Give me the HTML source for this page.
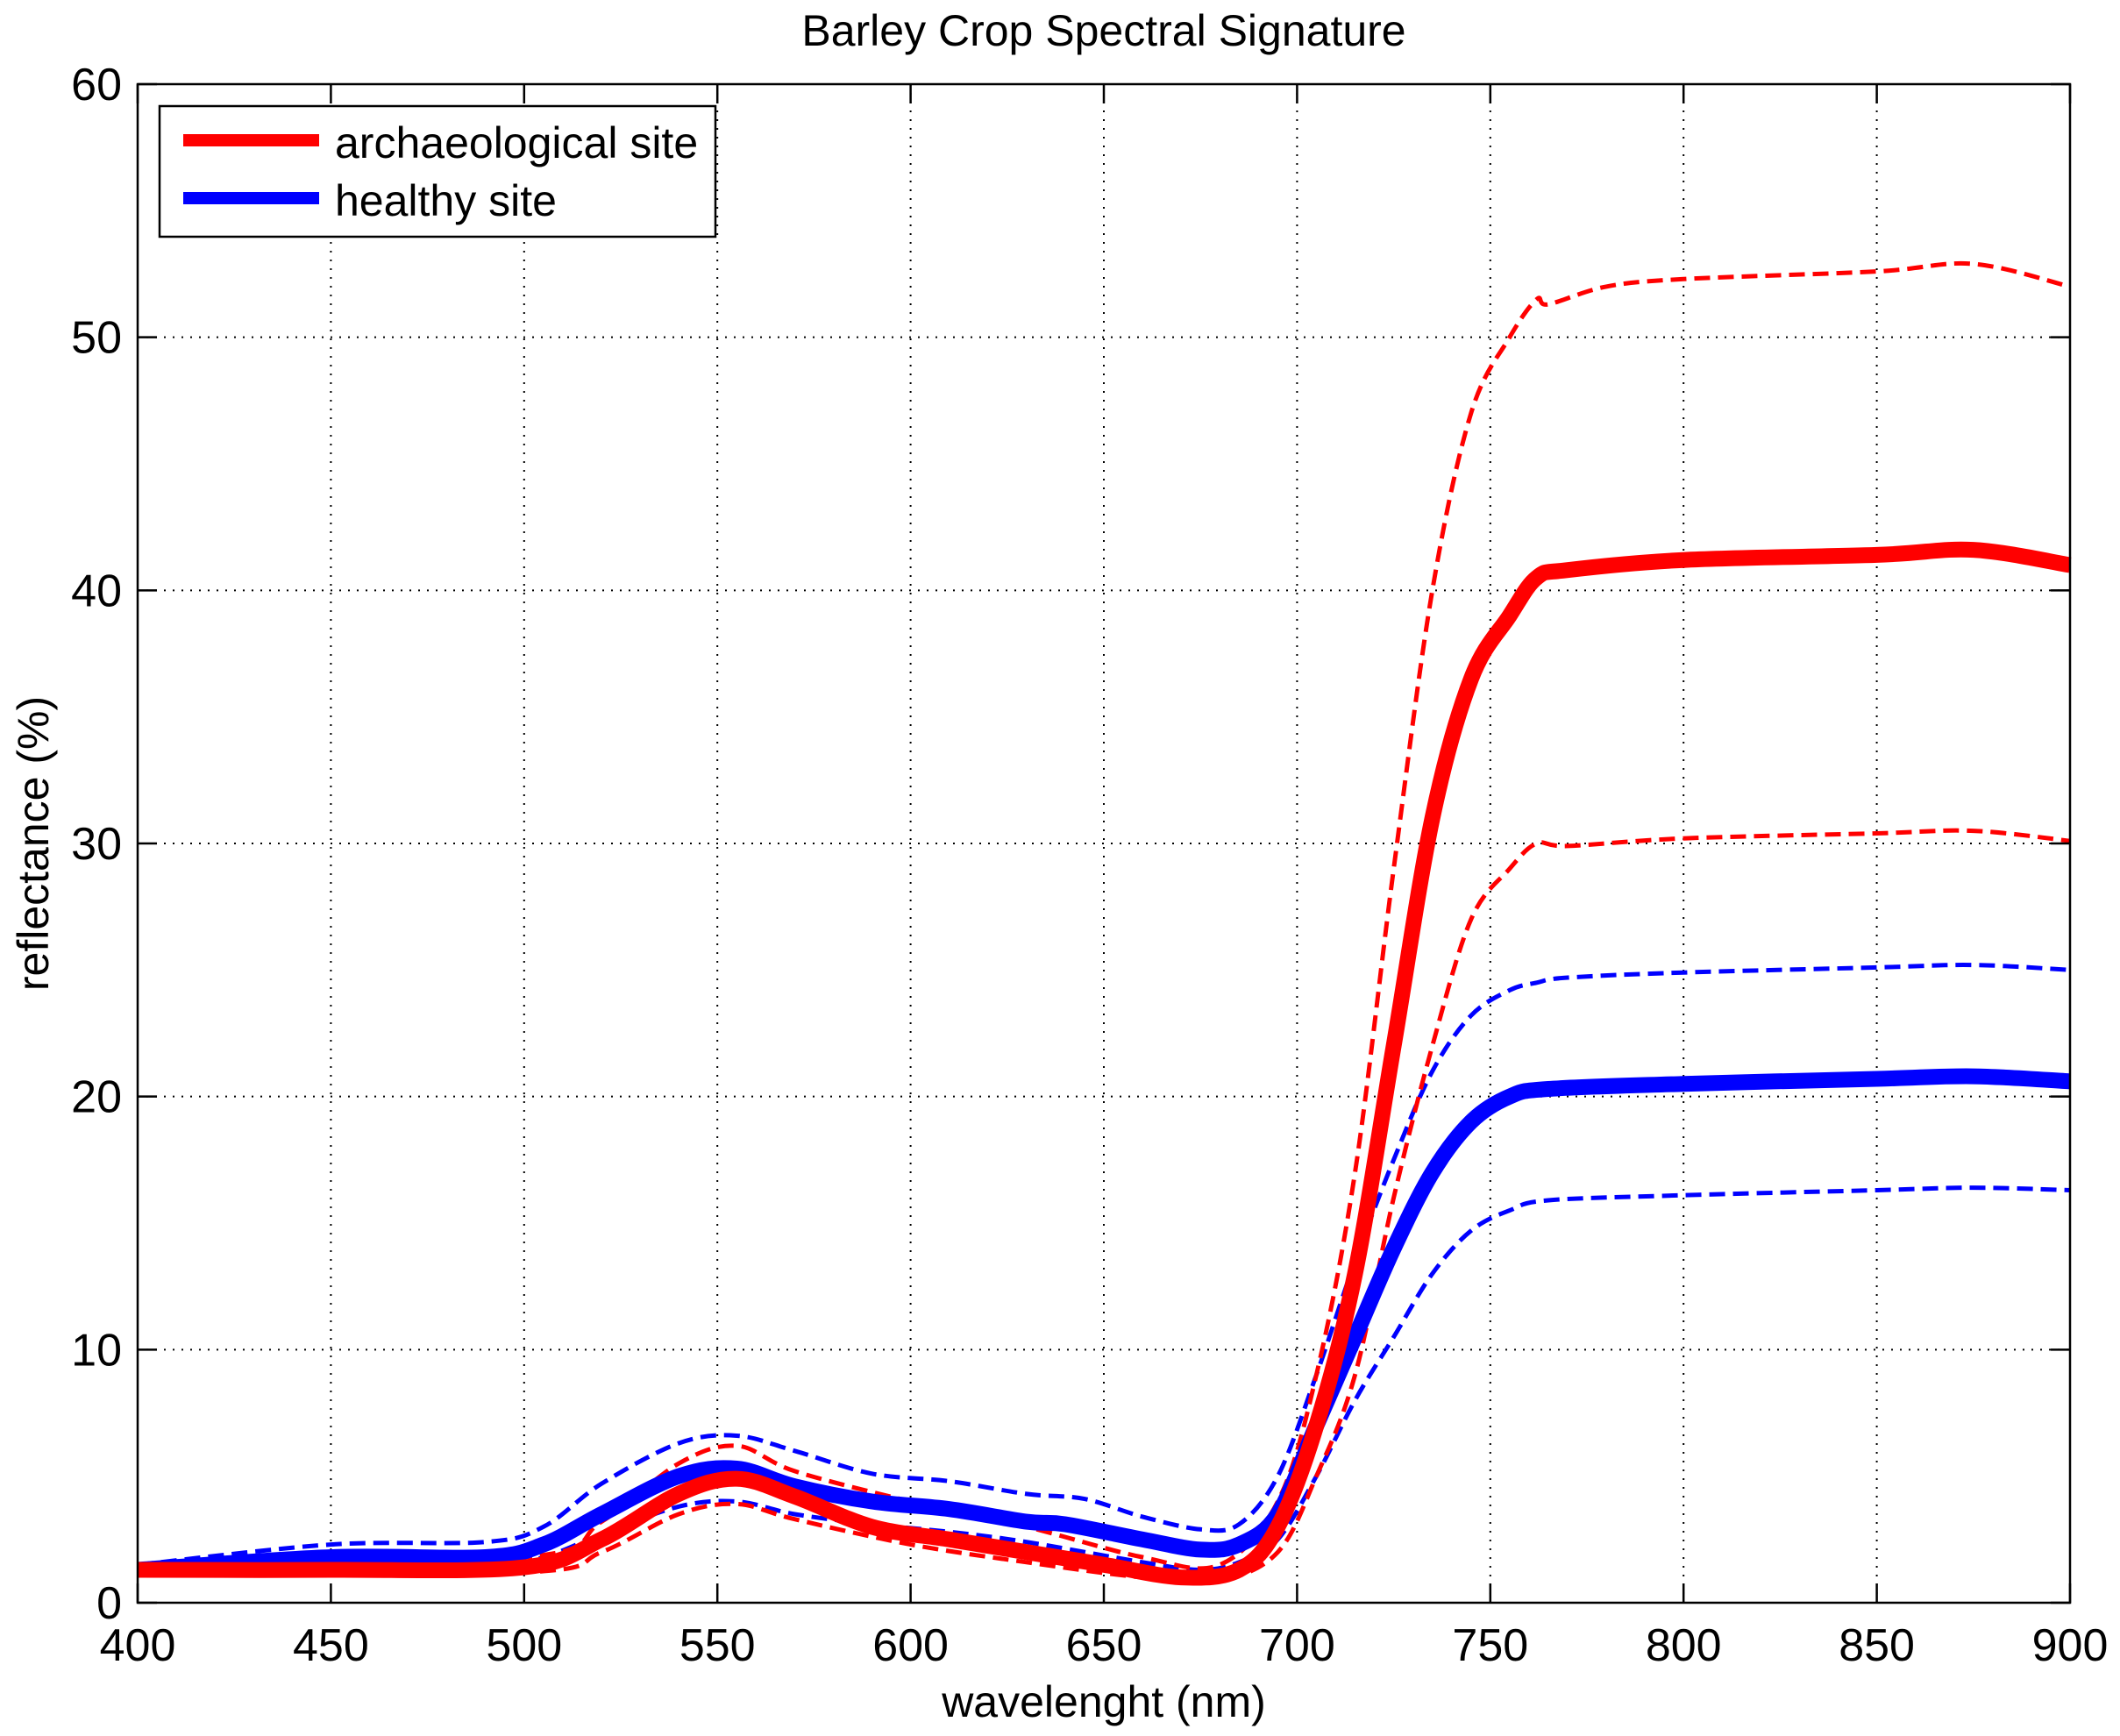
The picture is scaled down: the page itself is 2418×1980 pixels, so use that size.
<!DOCTYPE html>
<html><head><meta charset="utf-8">
<style>
html,body{margin:0;padding:0;background:#fff;}
svg{display:block;font-family:"Liberation Sans",Arial,sans-serif;}
</style></head>
<body>
<svg id="s" width="2418" height="1980" viewBox="0 0 2418 1980" xmlns="http://www.w3.org/2000/svg">
<rect width="2418" height="1980" fill="#fff"/>
<g id="grid"></g>
<g id="series"></g>
<rect x="157" y="96" width="2204" height="1732" fill="none" stroke="#000" stroke-width="2.5"/>
<g id="ticks"></g>
<text x="1259" y="52" font-size="50" text-anchor="middle">Barley Crop Spectral Signature</text>
<text x="1259" y="1958" font-size="50" text-anchor="middle">wavelenght (nm)</text>
<text transform="translate(55,962) rotate(-90)" font-size="50" text-anchor="middle">reflectance (%)</text>
<rect x="182" y="121" width="634" height="149" fill="#fff" stroke="#000" stroke-width="2.5"/>
<line x1="209" y1="160" x2="364" y2="160" stroke="#f00" stroke-width="14"/>
<line x1="209" y1="226" x2="364" y2="226" stroke="#00f" stroke-width="14"/>
<text x="382" y="180" font-size="50">archaeological site</text>
<text x="382" y="246" font-size="50">healthy site</text>
</svg>
<script>
const L=157,R=2361,T=96,B=1828;
const X=w=>L+(w-400)*(R-L)/500, Y=r=>B-r*(B-T)/60;
const ns="http://www.w3.org/2000/svg";
function el(p,n,a,t){const e=document.createElementNS(ns,n);for(const k in a)e.setAttribute(k,a[k]);if(t!==undefined)e.textContent=t;document.getElementById(p).appendChild(e);}
for(let w=450;w<900;w+=50)el("grid","line",{x1:X(w),y1:T,x2:X(w),y2:B,stroke:"#000","stroke-width":2,"stroke-dasharray":"2 8"});
for(let r=10;r<60;r+=10)el("grid","line",{x1:L,y1:Y(r),x2:R,y2:Y(r),stroke:"#000","stroke-width":2,"stroke-dasharray":"2 8"});
for(let w=400;w<=900;w+=50){
 el("ticks","line",{x1:X(w),y1:B,x2:X(w),y2:B-22,stroke:"#000","stroke-width":2.5});
 el("ticks","line",{x1:X(w),y1:T,x2:X(w),y2:T+22,stroke:"#000","stroke-width":2.5});
 el("ticks","text",{x:X(w),y:B+66,"font-size":52,"text-anchor":"middle"},w);
}
for(let r=0;r<=60;r+=10){
 el("ticks","line",{x1:L,y1:Y(r),x2:L+22,y2:Y(r),stroke:"#000","stroke-width":2.5});
 el("ticks","line",{x1:R,y1:Y(r),x2:R-22,y2:Y(r),stroke:"#000","stroke-width":2.5});
 el("ticks","text",{x:L-18,y:Y(r)+18,"font-size":52,"text-anchor":"end"},r);
}
function P(d){const a=d.split(/[ ,]+/).filter(s=>s).map(Number);let p=[];for(let i=0;i<a.length;i+=2)p.push([X(a[i]),Y(a[i+1])]);
 let s="M"+p[0][0].toFixed(1)+","+p[0][1].toFixed(1);
 for(let i=0;i<p.length-1;i++){const p0=p[i-1]||p[i],p1=p[i],p2=p[i+1],p3=p[i+2]||p2;
  const c1=[p1[0]+(p2[0]-p0[0])/6,p1[1]+(p2[1]-p0[1])/6],c2=[p2[0]-(p3[0]-p1[0])/6,p2[1]-(p3[1]-p1[1])/6];
  s+=" C"+c1.map(v=>v.toFixed(1))+" "+c2.map(v=>v.toFixed(1))+" "+p2.map(v=>v.toFixed(1));}
 return s;}
const rm="400,1.3 450,1.3 500,1.4 520,2.5 540,4.3 555,4.9 570,4.2 590,3.0 610,2.5 630,2.0 650,1.5 670,1.0 685,1.3 695,3 705,7 715,13 725,22 735,31 745,36.5 755,39 762,40.5 770,40.8 800,41.2 850,41.4 875,41.6 900,41.0";
const ru="400,1.5 500,1.8 520,3.2 540,5.5 555,6.2 570,5.2 600,4 630,3 660,1.8 680,1.5 695,4 705,9 715,17 725,29 735,40 745,47 755,50 762,51.5 765,51.3 780,52 800,52.3 850,52.6 875,52.9 900,52";
const rl="400,1.1 500,1.2 520,2 540,3.5 555,3.9 570,3.3 600,2.3 630,1.6 660,1.0 680,0.9 695,2 705,5 715,9 725,16 735,22 745,27 755,29 762,30 770,29.9 800,30.2 850,30.4 875,30.5 900,30.1";
const bm="400,1.3 450,1.8 490,1.8 505,2.3 520,3.5 540,5.0 555,5.3 570,4.6 590,4.0 610,3.7 630,3.2 640,3.1 660,2.5 675,2.1 685,2.3 695,3.5 705,7 715,10.5 725,14 735,17 745,19 755,20 765,20.3 800,20.5 850,20.7 875,20.8 900,20.6";
const bu="400,1.5 450,2.3 490,2.4 505,3 520,4.7 540,6.3 555,6.6 570,6 590,5.1 610,4.8 630,4.3 645,4.1 660,3.4 675,2.9 685,3.1 695,5 705,9 715,13.5 725,17.5 735,21 745,23.2 755,24.2 762,24.5 770,24.7 800,24.9 850,25.1 875,25.2 900,25";
const bl="400,1.2 450,1.4 490,1.4 505,1.8 520,2.7 540,3.8 555,4.0 570,3.5 590,3.1 610,2.8 630,2.4 660,1.6 675,1.3 685,1.6 695,2.5 705,5 715,8 725,10.5 735,13 745,14.7 755,15.5 765,15.9 800,16.1 850,16.3 875,16.4 900,16.3";
const dash={fill:"none","stroke-width":5,"stroke-dasharray":"18 9","stroke-linejoin":"round"};
el("series","path",Object.assign({d:P(bu),stroke:"#00f"},dash));
el("series","path",Object.assign({d:P(bl),stroke:"#00f"},dash));
el("series","path",Object.assign({d:P(ru),stroke:"#f00"},dash));
el("series","path",Object.assign({d:P(rl),stroke:"#f00"},dash));
el("series","path",{d:P(bm),stroke:"#00f",fill:"none","stroke-width":18,"stroke-linejoin":"round"});
el("series","path",{d:P(rm),stroke:"#f00",fill:"none","stroke-width":18,"stroke-linejoin":"round"});
</script>
</body></html>
